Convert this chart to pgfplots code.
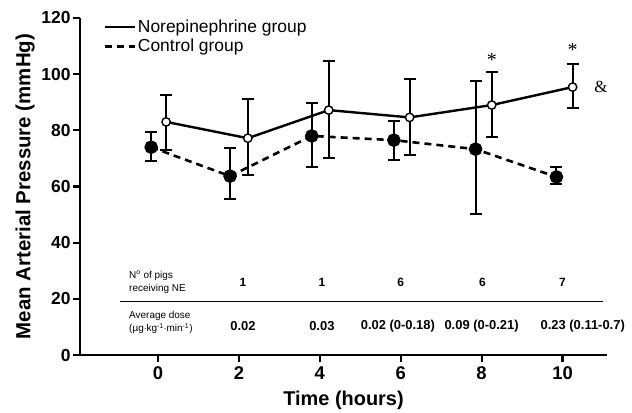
\documentclass[border=0pt]{standalone}
\usepackage{pgfplots}
\usepackage{pgfplotstable}
\pgfplotsset{compat=1.18}
\usepackage{fontspec}
\setmainfont{Liberation Sans}
\newfontfamily\seriffont{Liberation Serif}

\pgfplotstableread{
x y ep em
0.20 83.0 9.5 10.0
2.22 77.2 13.8 13.2
4.22 87.2 17.4 17.2
6.22 84.6 13.6 13.4
8.25 89.0 11.7 11.4
10.25 95.4 8.2 7.5
}\negroup

\pgfplotstableread{
x y ep em
-0.17 74.0 5.4 5.0
1.78 63.7 9.9 8.2
3.80 78.0 11.6 11.0
5.83 76.5 6.8 7.1
7.85 73.3 24.2 23.1
9.85 63.4 3.6 2.4
}\ctrlgroup

\begin{document}
\begin{tikzpicture}
\useasboundingbox (-80bp,-58bp) rectangle (552bp,355bp);
\begin{axis}[
  at={(0,0)}, anchor=south west,
  scale only axis,
  width=527bp, height=337bp,
  xmin=-1.93, xmax=11.1,
  ymin=0, ymax=120,
  axis x line=bottom, axis y line=left,
  axis line style={line width=2.6bp, -},
  xtick={0,2,4,6,8,10},
  ytick={0,20,40,60,80,100,120},
  tick style={line width=2.2bp, black},
  tick align=outside,
  major tick length=7bp,
  minor tick num=0,
  /pgf/number format/assume math mode=true,
  xticklabel style={font=\fontsize{18.5}{18.5}\selectfont\bfseries, yshift=-1bp},
  yticklabel style={font=\fontsize{17.5}{17.5}\selectfont\bfseries, xshift=1bp},
  xlabel={Time (hours)},
  ylabel={Mean Arterial Pressure (mmHg)},
  xlabel style={font=\fontsize{20}{20}\selectfont\bfseries, at={(axis description cs:0.5,0)}, anchor=center, yshift=-45bp},
  ylabel style={font=\fontsize{20.5}{20.5}\selectfont\bfseries, at={(axis description cs:-0.104,0.5)}, anchor=center},
  clip=false,
  legend style={at={(axis description cs:0.042,1.003)}, anchor=north west, draw=none, fill=none,
    font=\fontsize{17.5}{19}\selectfont, row sep=1bp, inner sep=1bp,
    nodes={inner sep=2bp}},
  legend cell align=left,
  legend image code/.code={\draw[#1, mark=none] (0bp,0bp) -- (30bp,0bp);},
  error bars/error bar style={solid, line width=2bp},
  error bars/error mark options={line width=2bp, mark size=6bp, black, rotate=90},
]
\addplot[black, line width=2.4bp, mark=*, mark size=4.2bp, mark options={solid, fill=white, line width=1.4bp},
  error bars/.cd, y dir=both, y explicit]
  table[x=x, y=y, y error plus=ep, y error minus=em]{\negroup};
\addlegendentry{Norepinephrine group}
\addplot[black, line width=2.6bp, dash pattern=on 7bp off 5bp, mark=*, mark size=5.5bp, mark options={solid, fill=black},
  error bars/.cd, y dir=both, y explicit]
  table[x=x, y=y, y error plus=ep, y error minus=em]{\ctrlgroup};
\addlegendentry{Control group}

\node[font=\seriffont\fontsize{20}{20}\selectfont] at (axis cs:8.25,105) {*};
\node[font=\seriffont\fontsize{20}{20}\selectfont] at (axis cs:10.25,108.5) {*};
\node[font=\seriffont\fontsize{17}{17}\selectfont] at (axis cs:10.95,95.5) {\&};

\draw[line width=1.2bp] (axis cs:-0.94,19) -- (axis cs:11.0,19);
\node[anchor=west, align=left, font=\fontsize{10}{13}\selectfont] at (axis cs:-0.8,26) {N\textsuperscript{o} of pigs\\receiving NE};
\node[anchor=west, align=left, font=\fontsize{10}{13}\selectfont] at (axis cs:-0.8,11.5) {Average dose\\(\textmu g$\cdot$kg\textsuperscript{-1}$\cdot$min\textsuperscript{-1})};
\node[font=\fontsize{12}{12}\selectfont\bfseries] at (axis cs:2.1,26) {1};
\node[font=\fontsize{12}{12}\selectfont\bfseries] at (axis cs:4.05,26) {1};
\node[font=\fontsize{12}{12}\selectfont\bfseries] at (axis cs:6.0,26) {6};
\node[font=\fontsize{12}{12}\selectfont\bfseries] at (axis cs:8.02,26) {6};
\node[font=\fontsize{12}{12}\selectfont\bfseries] at (axis cs:10.0,26) {7};
\node[font=\fontsize{13}{13}\selectfont\bfseries] at (axis cs:2.1,10.3) {0.02};
\node[font=\fontsize{13}{13}\selectfont\bfseries] at (axis cs:4.05,10.3) {0.03};
\node[font=\fontsize{13}{13}\selectfont\bfseries] at (axis cs:5.93,10.3) {0.02 (0-0.18)};
\node[font=\fontsize{13}{13}\selectfont\bfseries] at (axis cs:8.0,10.3) {0.09 (0-0.21)};
\node[font=\fontsize{13}{13}\selectfont\bfseries] at (axis cs:10.5,10.3) {0.23 (0.11-0.7)};
\end{axis}
\end{tikzpicture}
\end{document}
